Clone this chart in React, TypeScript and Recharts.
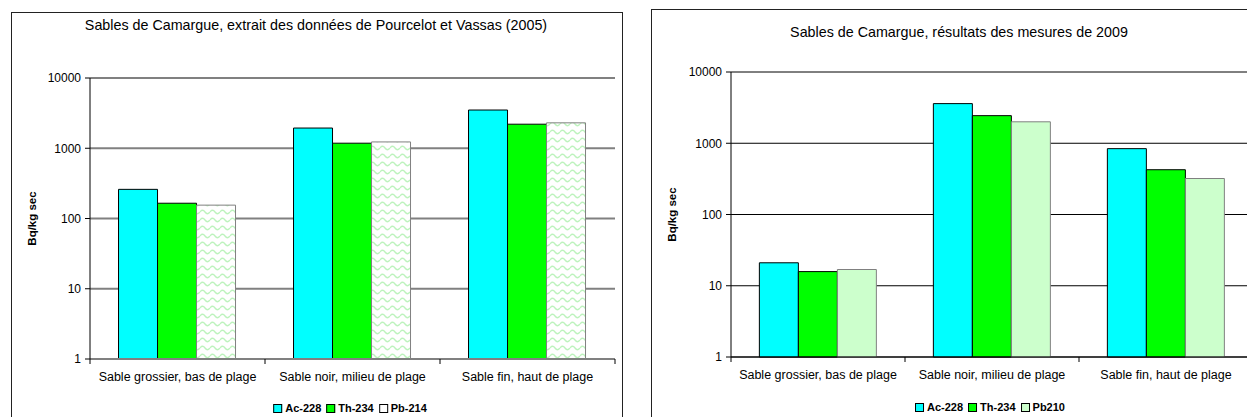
import { BarChart, Bar, XAxis, YAxis, CartesianGrid } from "recharts";

const FONT = '"Liberation Sans", Arial, Helvetica, sans-serif';

const categories = [
    "Sable grossier, bas de plage",
    "Sable noir, milieu de plage",
    "Sable fin, haut de plage",
];
const logTicks = [1, 10, 100, 1000, 10000];

// Pourcelot et Vassas (2005)
const ac228_2005 = [260, 1940, 3500];
const th234_2005 = [165, 1180, 2200];
const pb214_2005 = [155, 1230, 2300];

// mesures de 2009
const ac228_2009 = [21, 3600, 840];
const th234_2009 = [15.8, 2440, 425];
const pb210_2009 = [16.9, 2000, 320];

const names2005 = ["Ac-228", "Th-234", "Pb-214"];
const names2009 = ["Ac-228", "Th-234", "Pb210"];

const data2005 = categories.map((name, i) => ({
    name,
    s0: ac228_2005[i],
    s1: th234_2005[i],
    s2: pb214_2005[i],
}));

const data2009 = categories.map((name, i) => ({
    name,
    s0: ac228_2009[i],
    s1: th234_2009[i],
    s2: pb210_2009[i],
}));

interface SeriesStyle {
    fill: string;
    stroke: string;
    swatch: string;
}

const styles2005: SeriesStyle[] = [
    { fill: "#00ffff", stroke: "#000", swatch: "#00ffff" },
    { fill: "#00ff00", stroke: "#000", swatch: "#00ff00" },
    { fill: "url(#wave)", stroke: "#808080", swatch: "#ffffff" },
];

const styles2009: SeriesStyle[] = [
    { fill: "#00ffff", stroke: "#000", swatch: "#00ffff" },
    { fill: "#00ff00", stroke: "#000", swatch: "#00ff00" },
    { fill: "#ccffcc", stroke: "#808080", swatch: "#ccffcc" },
];

interface PanelProps {
    title: string;
    titleX: number;
    titleY: number;
    frameX: number;
    frameY: number;
    frameW: number;
    chartLeft: number;
    chartWidth: number;
    margin: { top: number; right: number; bottom: number; left: number };
    yAxisWidth: number;
    data: any[];
    names: string[];
    styles: SeriesStyle[];
    gridColor: string;
    gridWidth: number;
    legendX: number;
    legendY: number;
}

function Panel(p: PanelProps) {
    const plotWidth = p.chartWidth - p.margin.left - p.margin.right - p.yAxisWidth;
    const band = plotWidth / categories.length;

    const renderTick = (props: any) => {
        const { x, y, payload, index } = props;
        return (
            <g>
                <line x1={x - band / 2} y1={y} x2={x - band / 2} y2={y + 5} stroke="#000" />
                {index === categories.length - 1 && (
                    <line x1={x + band / 2} y1={y} x2={x + band / 2} y2={y + 5} stroke="#000" />
                )}
                <text x={x} y={y + 18} textAnchor="middle" dominantBaseline="central"
                    fontSize={12.5} fontFamily={FONT} fill="#000">
                    {payload.value}
                </text>
            </g>
        );
    };

    return (
        <>
            <div style={{
                position: "absolute", left: p.frameX, top: p.frameY, width: p.frameW, height: 1000,
                border: "1.5px solid #222", boxSizing: "border-box",
            }} />
            <div style={{
                position: "absolute", left: p.titleX, top: p.titleY, transform: "translate(-50%, -50%)",
                whiteSpace: "nowrap", fontSize: 14.3, fontFamily: FONT, color: "#000",
            }}>
                {p.title}
            </div>
            <div style={{ position: "absolute", left: p.chartLeft, top: 0 }}>
                <BarChart width={p.chartWidth} height={417} data={p.data} margin={p.margin}
                    barCategoryGap="16.3%" barGap={0}>
                    <defs>
                        <pattern id="wave" width="10" height="8" patternUnits="userSpaceOnUse">
                            <rect width="10" height="8" fill="#ffffff" />
                            <path d="M0 4 Q2.5 0.5 5 4 T10 4" fill="none" stroke="#bdf3bd" strokeWidth={1.3} />
                        </pattern>
                    </defs>
                    <CartesianGrid vertical={false} stroke={p.gridColor} strokeWidth={p.gridWidth} />
                    <XAxis dataKey="name" height={30} tickSize={0} tickMargin={0} interval={0}
                        axisLine={{ stroke: p.gridColor, strokeWidth: p.gridWidth }} tick={renderTick} />
                    <YAxis type="number" scale="log" domain={[1, 10000]} ticks={logTicks} interval={0}
                        width={p.yAxisWidth} tickSize={5} tickMargin={4}
                        axisLine={{ stroke: "#000" }} tickLine={{ stroke: "#000" }}
                        tick={{ fontSize: 12, fill: "#000", fontFamily: FONT }}
                        label={{
                            content: (lp: any) => {
                                const vb = lp.viewBox;
                                const cx = vb.x + 32;
                                const cy = vb.y + vb.height / 2;
                                return (
                                    <text x={cx} y={cy} transform={`rotate(-90, ${cx}, ${cy})`}
                                        textAnchor="middle" dominantBaseline="central"
                                        fontSize={11.5} fontWeight="bold" fontFamily={FONT} fill="#000">
                                        Bq/kg sec
                                    </text>
                                );
                            },
                        }}
                    />
                    {p.styles.map((s, i) => (
                        <Bar key={i} dataKey={"s" + i} name={p.names[i]} fill={s.fill} stroke={s.stroke}
                            strokeWidth={1} isAnimationActive={false} />
                    ))}
                </BarChart>
            </div>
            <div style={{
                position: "absolute", left: p.legendX, top: p.legendY, transform: "translate(-50%, -50%)",
                display: "flex", alignItems: "center", whiteSpace: "nowrap",
                fontSize: 11, fontWeight: "bold", fontFamily: FONT, color: "#000",
            }}>
                {p.names.map((n, i) => (
                    <span key={i} style={{ display: "flex", alignItems: "center", marginLeft: i ? 5 : 0 }}>
                        <span style={{
                            display: "inline-block", width: 7, height: 7, marginRight: 3,
                            background: p.styles[i].swatch, border: "1px solid #000",
                        }} />
                        {n}
                    </span>
                ))}
            </div>
        </>
    );
}

export default function App() {
    return (
        <div style={{
            position: "fixed", left: 0, top: 0, width: 1247, height: 417,
            overflow: "hidden", background: "#fff",
        }}>
            <Panel
                title="Sables de Camargue, extrait des données de Pourcelot et Vassas (2005)"
                titleX={316} titleY={25}
                frameX={11} frameY={12} frameW={612}
                chartLeft={0} chartWidth={622}
                margin={{ top: 78, right: 7, bottom: 28, left: 0 }}
                yAxisWidth={90}
                data={data2005} names={names2005} styles={styles2005}
                gridColor="#808080" gridWidth={2}
                legendX={350} legendY={408}
            />
            <Panel
                title="Sables de Camargue, résultats des mesures de 2009"
                titleX={959} titleY={32}
                frameX={651} frameY={9} frameW={1000}
                chartLeft={640} chartWidth={640}
                margin={{ top: 72, right: 27, bottom: 30, left: 0 }}
                yAxisWidth={91}
                data={data2009} names={names2009} styles={styles2009}
                gridColor="#000" gridWidth={1}
                legendX={990} legendY={407}
            />
        </div>
    );
}
